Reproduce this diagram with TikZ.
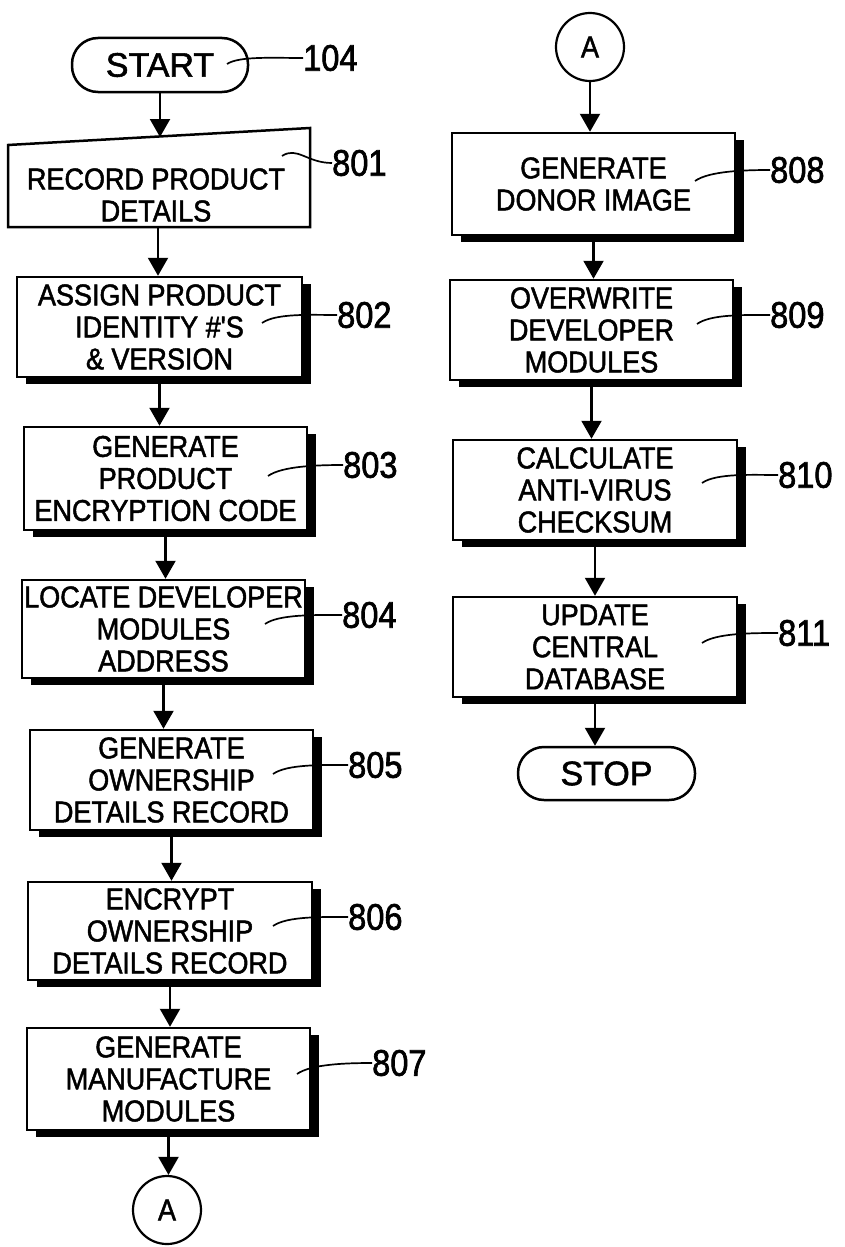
\documentclass[tikz,border=0pt]{standalone}
\usepackage{fontspec}
\newfontfamily\boxfont[FakeStretch=0.9,FakeBold=1.6]{Liberation Sans}
\newfontfamily\termfont[FakeBold=1.6]{Liberation Sans}
\newfontfamily\numfont[FakeStretch=0.88,FakeBold=1.8]{Liberation Sans}
\usetikzlibrary{arrows.meta,shadows}
\begin{document}
\begin{tikzpicture}[x=1pt,y=-1pt,
  proc/.style={draw, line width=2.5pt, fill=white, align=center, inner sep=0pt,
    minimum width=283pt, minimum height=100pt,
    font=\boxfont\fontsize{30}{32}\selectfont,
    general shadow={fill=black, shadow xshift=9pt, shadow yshift=-7pt}},
  term/.style={draw, line width=2.5pt, rounded corners=26pt, minimum width=176pt,
    minimum height=54pt, inner sep=0pt, font=\termfont\fontsize{34}{34}\selectfont},
  conn/.style={draw, circle, line width=2.2pt, minimum size=68pt, inner sep=0pt,
    font=\boxfont\fontsize{30}{30}\selectfont},
  num/.style={anchor=west, inner sep=0pt, font=\numfont\fontsize{37}{37}\selectfont},
  lead/.style={line width=1.7pt},
  arr/.style={line width=2.2pt, -{Triangle[length=18pt,width=20pt]}}
]
\useasboundingbox (0,0) rectangle (845,1247);

% ---------- left column ----------
\node[term] (start) at (160,65) {START};
\node[num] (l104) at (303,58) {104};
\coordinate (s104) at (227,64);
\draw[lead] (s104) .. controls +(12,-8) and +(-30,0) .. (l104.west);

% 801 manual input (trapezoid)
\coordinate (t1) at (8,145);
\coordinate (t2) at (310,128);
\coordinate (t3) at (310,227);
\coordinate (t4) at (8,227);
\begin{scope}[shift={(9,7)}]
  \fill[black] (t1) -- (t2) -- (t3) -- (t4) -- cycle;
\end{scope}
\draw[line width=2.5pt, fill=white] (t1) -- (t2) -- (t3) -- (t4) -- cycle;
\node[align=center, inner sep=0pt, font=\boxfont\fontsize{30}{32}\selectfont] (n801) at (156,195) {RECORD PRODUCT\\DETAILS};
\coordinate (top801) at (156,137);
\coordinate (bot801) at (158,227);
\node[num] (l801) at (332,163) {801};
\coordinate (s801) at (282,156);
\draw[lead] (s801) .. controls +(15,-10) and +(-25,0) .. (l801.west);

\node[proc, minimum width=285pt] (n802) at (159.5,327) {ASSIGN PRODUCT\\IDENTITY \#'S\\\& VERSION};
\node[proc, minimum height=103pt] (n803) at (165.5,478.5) {GENERATE\\PRODUCT\\ENCRYPTION CODE};
\node[proc, minimum height=98pt] (n804) at (163.5,629) {LOCATE DEVELOPER\\MODULES\\ADDRESS};
\node[proc] (n805) at (171.5,780) {GENERATE\\OWNERSHIP\\DETAILS RECORD};
\node[proc, minimum width=284pt, minimum height=98pt] (n806) at (170,931) {ENCRYPT\\OWNERSHIP\\DETAILS RECORD};
\node[proc, minimum height=102pt] (n807) at (168.5,1079) {GENERATE\\MANUFACTURE\\MODULES};
\node[conn] (a1) at (167,1210) {A};

\node[num] (l802) at (337,315) {802};
\node[num] (l803) at (343,465) {803};
\node[num] (l804) at (342,615) {804};
\node[num] (l805) at (348,765) {805};
\node[num] (l806) at (348,917) {806};
\node[num] (l807) at (372,1063) {807};
\coordinate (s802) at (262,323);
\coordinate (s803) at (268,476);
\coordinate (s804) at (265,624);
\coordinate (s805) at (273,774);
\coordinate (s806) at (273,926);
\coordinate (s807) at (297,1074);
\foreach \k in {802,803,804,805,806,807}
  \draw[lead] (s\k) .. controls +(14,-10) and +(-25,0) .. (l\k.west);

\draw[arr] (start) -- (start |- top801);
\draw[arr] (bot801) -- (bot801 |- n802.north);
\draw[arr] (n802.south) -- (n802.south |- n803.north);
\draw[arr] (n803.south) -- (n803.south |- n804.north);
\draw[arr] (n804.south) -- (n804.south |- n805.north);
\draw[arr] (n805.south) -- (n805.south |- n806.north);
\draw[arr] (n806.south) -- (n806.south |- n807.north);
\draw[arr] (n807.south) -- (n807.south |- a1.north);

% ---------- right column ----------
\node[conn] (a2) at (590,47) {A};
\node[proc, minimum height=102pt] (n808) at (593.5,184) {GENERATE\\DONOR IMAGE};
\node[proc] (n809) at (591.5,330) {OVERWRITE\\DEVELOPER\\MODULES};
\node[proc, minimum width=284pt] (n810) at (595,490) {CALCULATE\\ANTI-VIRUS\\CHECKSUM};
\node[proc, minimum width=284pt] (n811) at (595,647) {UPDATE\\CENTRAL\\DATABASE};
\node[term, minimum width=177pt, minimum height=53pt] (stop) at (606.5,773.5) {STOP};

\node[num] (l808) at (770,170) {808};
\node[num] (l809) at (770,315) {809};
\node[num] (l810) at (778,475) {810};
\node[num] (l811) at (778,633) {811};
\coordinate (s808) at (695,181);
\coordinate (s809) at (697,324);
\coordinate (s810) at (702,483);
\coordinate (s811) at (702,643);
\foreach \k in {808,809,810,811}
  \draw[lead] (s\k) .. controls +(14,-10) and +(-25,0) .. (l\k.west);

\draw[arr] (a2) -- (a2 |- n808.north);
\draw[arr] (n808.south) -- (n808.south |- n809.north);
\draw[arr] (n809.south) -- (n809.south |- n810.north);
\draw[arr] (n810.south) -- (n810.south |- n811.north);
\draw[arr] (n811.south) -- (n811.south |- stop.north);
\end{tikzpicture}
\end{document}
